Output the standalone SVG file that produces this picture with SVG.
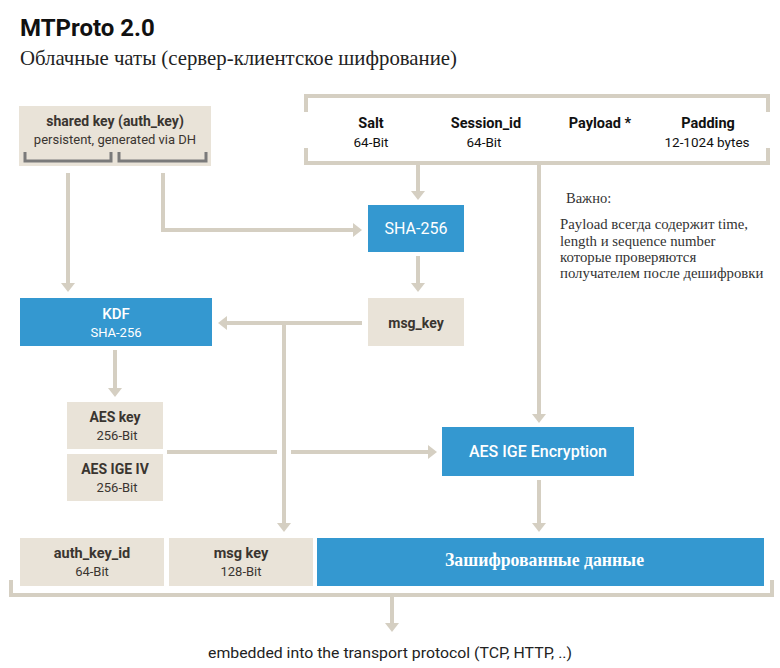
<svg xmlns="http://www.w3.org/2000/svg" width="780" height="668" viewBox="0 0 780 668">
<style>
.box{fill:#e9e3d8}
.blue{fill:#3498d0}
.ln{fill:none;stroke:#d5cfc2;stroke-width:4}
.b{font-family:Roboto,"Liberation Sans",sans-serif;font-weight:bold;fill:#3a3530;text-anchor:middle}
.r{font-family:Roboto,"Liberation Sans",sans-serif;fill:#3a3530;text-anchor:middle}
.w{font-family:Roboto,"Liberation Sans",sans-serif;fill:#ffffff;text-anchor:middle}
.s{font-family:"Liberation Serif",serif;fill:#333333}
.k{font-family:Roboto,"Liberation Sans",sans-serif;font-weight:bold;fill:#111111;text-anchor:middle}
.kr{font-family:Roboto,"Liberation Sans",sans-serif;fill:#111111;text-anchor:middle}
</style>
<defs>
<marker id="ah" markerUnits="userSpaceOnUse" markerWidth="12" markerHeight="16" viewBox="0 -8 12 16" refX="0" refY="0" orient="auto">
<path d="M0,-7 L9,0 L0,7 z" fill="#d5cfc2"/>
</marker>
</defs>
<rect width="780" height="668" fill="#ffffff"/>
<g id="title">
<text x="20" y="36" font-family="Roboto,'Liberation Sans',sans-serif" font-weight="bold" font-size="24" fill="#111">MTProto 2.0</text>
<text x="20" y="65" font-family="'Liberation Serif',serif" font-size="22" fill="#222" textLength="437" lengthAdjust="spacingAndGlyphs">Облачные чаты (сервер-клиентское шифрование)</text>
</g>
<g id="connectors">
<path class="ln" d="M68,173 V283" marker-end="url(#ah)"/>
<path class="ln" d="M163,173 V230 H353" marker-end="url(#ah)"/>
<path class="ln" d="M418,165 V191" marker-end="url(#ah)"/>
<path class="ln" d="M539,165 V414" marker-end="url(#ah)"/>
<path class="ln" d="M418,256 V283" marker-end="url(#ah)"/>
<path class="ln" d="M362,323 H227" marker-end="url(#ah)"/>
<path class="ln" d="M284,323 V523" marker-end="url(#ah)"/>
<path class="ln" d="M115,350 V388" marker-end="url(#ah)"/>
<path class="ln" d="M167,452 H277"/>
<path class="ln" d="M291,452 H428" marker-end="url(#ah)"/>
<path class="ln" d="M539,480 V523" marker-end="url(#ah)"/>
<path class="ln" d="M392,597 V623" marker-end="url(#ah)"/>
</g>
<g id="packet">
<path class="ln" d="M306,112 V96 H768 V112"/>
<path class="ln" d="M306,148 V163 H768 V148"/>
<text class="k" x="371" y="128" font-size="14.5">Salt</text>
<text class="kr" x="371" y="147" font-size="13.5">64-Bit</text>
<text class="k" x="486" y="128" font-size="14.5">Session_id</text>
<text class="kr" x="484" y="147" font-size="13.5">64-Bit</text>
<text class="k" x="600" y="128" font-size="14.5">Payload *</text>
<text class="k" x="708" y="128" font-size="14.5">Padding</text>
<text class="kr" x="707" y="147" font-size="13.5">12-1024 bytes</text>
</g>
<g id="note">
<text class="s" x="566" y="203" font-size="14.5">Важно:</text>
<text class="s" x="560" y="229" font-size="14.8">Payload всегда содержит time,</text>
<text class="s" x="560" y="246" font-size="14.8">length и sequence number</text>
<text class="s" x="560" y="262" font-size="14.8">которые проверяются</text>
<text class="s" x="560" y="278" font-size="14.8">получателем после дешифровки</text>
</g>
<g id="shared-key">
<rect class="box" x="19" y="106" width="192" height="60"/>
<text class="b" x="115" y="126" font-size="14">shared key (auth_key)</text>
<text class="r" x="115" y="144" font-size="13">persistent, generated via DH</text>
<path d="M25,152 V161 H111 V152 M119,152 V161 H206 V152" fill="none" stroke="#7a7a7a" stroke-width="3"/>
</g>
<g id="sha256">
<rect class="blue" x="368" y="205" width="96" height="47"/>
<text class="w" x="416" y="234" font-size="16">SHA-256</text>
</g>
<g id="msg-key">
<rect class="box" x="368" y="298" width="96" height="48"/>
<text class="b" x="416" y="328" font-size="14">msg_key</text>
</g>
<g id="kdf">
<rect class="blue" x="20" y="298" width="192" height="48"/>
<text class="w" x="116" y="319" font-size="15" font-weight="500">KDF</text>
<text class="w" x="116" y="337" font-size="13">SHA-256</text>
</g>
<g id="aes-key">
<rect class="box" x="67" y="402" width="96" height="47"/>
<text class="b" x="115" y="422" font-size="14">AES key</text>
<text class="r" x="117" y="440" font-size="13">256-Bit</text>
</g>
<g id="aes-iv">
<rect class="box" x="67" y="454" width="96" height="47"/>
<text class="b" x="115" y="474" font-size="14">AES IGE IV</text>
<text class="r" x="117" y="492" font-size="13">256-Bit</text>
</g>
<g id="aes-enc">
<rect class="blue" x="442" y="427" width="192" height="49"/>
<text class="w" x="538" y="457" font-size="16" font-weight="500">AES IGE Encryption</text>
</g>
<g id="auth-key-id">
<rect class="box" x="20" y="538" width="144" height="48"/>
<text class="b" x="92" y="558" font-size="14.5">auth_key_id</text>
<text class="r" x="92" y="576" font-size="13">64-Bit</text>
</g>
<g id="msg-key-out">
<rect class="box" x="169" y="538" width="144" height="48"/>
<text class="b" x="241" y="558" font-size="14.5">msg key</text>
<text class="r" x="241" y="576" font-size="13">128-Bit</text>
</g>
<g id="encrypted">
<rect class="blue" x="317" y="538" width="447" height="48"/>
<text x="544.5" y="566" font-family="'Liberation Serif',serif" font-weight="bold" font-size="18.5" fill="#ffffff" text-anchor="middle" textLength="199" lengthAdjust="spacingAndGlyphs">Зашифрованные данные</text>
</g>
<g id="transport">
<path class="ln" d="M11,580 V595 H772 V580"/>
<text x="390" y="658" font-family="Roboto,'Liberation Sans',sans-serif" font-size="14" fill="#222" text-anchor="middle" textLength="364" lengthAdjust="spacingAndGlyphs">embedded into the transport protocol (TCP, HTTP, ..)</text>
</g>
</svg>
